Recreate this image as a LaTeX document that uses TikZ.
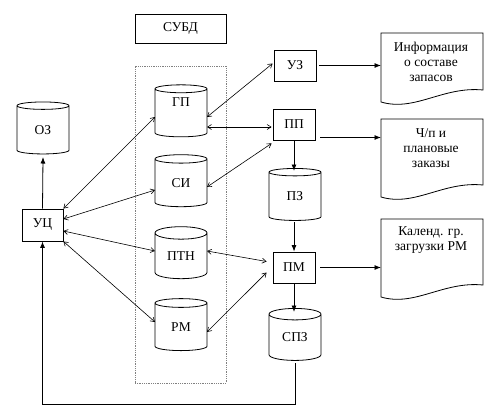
\documentclass[tikz,border=0pt]{standalone}
\usepackage{fontspec}
\setmainfont{Liberation Serif}
\usetikzlibrary{shapes.geometric, arrows.meta, calc}
\tikzset{
  blok/.style={draw, line width=0.8pt, inner sep=0pt, minimum width=42, minimum height=31},
  baza/.style={cylinder, shape border rotate=90, draw, line width=0.8pt, aspect=0.45,
    minimum width=52, minimum height=52, inner sep=0pt},
  doktext/.style={align=center, inner sep=0pt},
  ramka/.style={line width=0.8pt},
  farr/.style={-{Latex[length=6.5pt, width=5pt]}, line width=0.8pt},
  darr/.style={{Straight Barb[length=4pt, width=5pt]}-{Straight Barb[length=4pt, width=5pt]}, line width=0.6pt},
}
% document shape: top-left corner, left height, right height
\newcommand\dokument[3]{%
  \draw[ramka] (#1) -- ++(0,#2) .. controls +(34,10) and +(-40,-4) .. ($(#1)+(102,#3)$) -- ++(0,-#3) -- cycle;}
\begin{document}
\begin{tikzpicture}[x=1pt, y=-1pt, font=\fontsize{13.5}{15}\selectfont]
  \useasboundingbox (0,0) rectangle (500,413);
  % DBMS
  \node[blok, minimum width=91, minimum height=29] (subd) at (180.5,28.5) {СУБД};
  \node[draw=gray, densely dotted, line width=0.8pt, minimum width=91, minimum height=317] (grp) at (180.5,224.5) {};
  \node[baza, text depth=21pt] (gp) at (181,113) {ГП};
  \node[baza] (si) at (181,183) {СИ};
  \node[baza] (ptn) at (181,256) {ПТН};
  \node[baza] (rm) at (181,327) {РМ};
  % left side
  \node[baza] (oz) at (43,130) {ОЗ};
  \node[blok, minimum width=41, minimum height=32] (uc) at (42.5,225) {УЦ};
  % right side
  \node[blok] (uz) at (295,65.5) {УЗ};
  \node[blok] (pp) at (294,124.5) {ПП};
  \node[baza] (pz) at (295,196.5) {ПЗ};
  \node[blok] (pm) at (294,267.5) {ПМ};
  \node[baza] (spz) at (295,337.5) {СПЗ};
  % documents
  \coordinate (d1) at (381,33);
  \coordinate (d2) at (381,119);
  \coordinate (d3) at (381,219);
  \dokument{d1}{69}{57}
  \dokument{d2}{78}{66}
  \dokument{d3}{78}{66}
  \node[doktext] (t1) at ($(d1)+(50,29)$) {Информация\\о составе\\запасов};
  \node[doktext] (t2) at ($(d2)+(50,29)$) {Ч/п и\\плановые\\заказы};
  \node[doktext] (t3) at ($(d3)+(50,21.5)$) {Календ. гр.\\загрузки РМ};
  % exchange with the database
  \draw[darr] (uc.north east) -- ($(gp.center)+(-26,4)$);
  \draw[darr] ($(uc.east)+(0,-6)$) -- ($(si.center)+(-26,7)$);
  \draw[darr] ($(uc.east)+(0,6)$) -- ($(ptn.center)+(-26,-5)$);
  \draw[darr] (uc.south east) -- ($(rm.center)+(-26,-5)$);
  \draw[darr] ($(gp.center)+(26,4)$) -- ($(uz.west)+(-1,-2)$);
  \draw[darr] ($(gp.center)+(26,14)$) -- ($(pp.west)+(-1,2.5)$);
  \draw[darr] ($(si.center)+(26,4)$) -- ($(pp.south west)+(-1,3)$);
  \draw[darr] ($(ptn.center)+(26,-5)$) -- ($(pm.west)+(-6,-6)$);
  \draw[darr] ($(rm.center)+(26,5)$) -- ($(pm.west)+(-6,5)$);
  % flow
  \draw[farr] (uc.north) -- ($(oz.center)+(0,27)$);
  \draw[farr] (pp.south) -- ($(pz.center)+(-1,-25.5)$);
  \draw[farr] ($(pz.center)+(-1,25.5)$) -- (pm.north);
  \draw[farr] (pm.south) -- ($(spz.center)+(-1,-25.5)$);
  \draw[farr] ($(uz.east)+(3,0)$) -- (uz.east -| d1);
  \draw[farr] ($(pp.east)+(5,13)$) -- ($(pp.east -| d2)+(0,13)$);
  \draw[farr] ($(pm.east)+(5,0)$) -- (pm.east -| d3);
  \coordinate (kr) at (295,404);
  \draw[farr] ($(spz.center)+(0,25.5)$) -- (kr) -| (uc.south);
\end{tikzpicture}
\end{document}
